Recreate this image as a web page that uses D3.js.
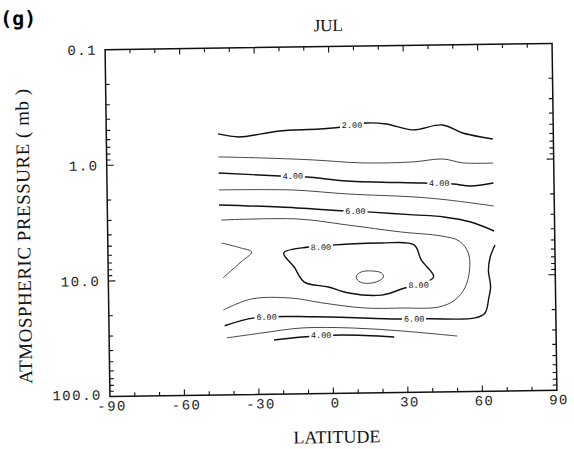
<!DOCTYPE html>
<html>
<head>
<meta charset="utf-8">
<script src="https://cdn.jsdelivr.net/npm/d3@7"></script>
<style>
  body { margin: 0; background: #fff; }
  svg { display: block; }
  .mono { font-family: "Liberation Mono", "DejaVu Sans Mono", monospace; }
  .serif { font-family: "Liberation Serif", "DejaVu Serif", serif; }
</style>
</head>
<body>
<svg id="chart" width="574" height="449"></svg>
<script>
// axis values
const latTicks = [-90, -60, -30, 0, 30, 60, 90];
const latMinor = d3.range(-90, 91, 10);
const presTicks = [0.1, 1, 10, 100];
const presTickLabels = ["0.1", "1.0", "10.0", "100.0"];

// contour lines: [latitude, pressure (mb)]
const c2 = [[-45, 0.552], [-36.5, 0.590], [-27.6, 0.559], [-20.4, 0.530], [-4.2, 0.515], [5, 0.498],
            [14.7, 0.463], [22.8, 0.475], [33.3, 0.538], [45.4, 0.492], [53.5, 0.581], [65.6, 0.660]];
const c3 = [[-45, 0.873], [-27.6, 0.902], [-7.1, 0.951], [13.1, 1.024], [33.3, 1.018], [45.4, 0.969],
            [53.5, 1.053], [65.6, 1.064]];
const c4Upper = [[-45, 1.201], [-20.4, 1.298], [-9.5, 1.335], [6.7, 1.46], [37.3, 1.553], [49.4, 1.597],
                 [56.3, 1.67], [65.6, 1.584]];
const c5Upper = [[-45, 1.685], [-15.3, 1.722], [6.7, 1.891], [33.3, 2.044], [47, 2.19], [65.6, 2.504]];
const c6Upper = [[-45, 2.271], [-20.4, 2.41], [5.9, 2.65], [14.7, 2.72], [33.3, 2.92], [45.4, 3.07],
                 [56.3, 3.42], [65.6, 4.12]];
const c7Wrap = [[-44.2, 3.07], [-13.5, 3.07], [6.7, 3.51], [28, 4.09], [44.2, 4.48], [51.5, 4.98],
                [55.1, 6.34], [55.5, 8.9], [53.5, 12.7], [49.4, 16.1], [43, 18.4], [28, 18.6],
                [13.1, 18.4], [-4.2, 16.4], [-16.3, 14.8], [-32.5, 14.9], [-43.8, 18.4]];
const c7West = [[-44.2, 4.85], [-36.5, 5.38], [-32.1, 5.85], [-36.5, 7.11], [-40.6, 8.48], [-43.8, 9.71]];
const c8 = [[-19.2, 6.01], [-9.1, 5.38], [1, 5.2], [20, 5.07], [33.3, 5.31], [36.1, 7.18], [41, 10.1],
            [34.9, 11.8], [29.3, 12.5], [20, 14.3], [6.7, 13.6], [-1.4, 12.0], [-11.1, 10.8], [-15.1, 7.98]];
const c9 = [[9.9, 9.69], [11.9, 8.97], [15.9, 8.81], [20, 9.2], [20.8, 9.97], [17.9, 11.0], [12.7, 11.2],
            [10.3, 10.5]];
const c6Lower = [[-43.4, 25.2], [-31.3, 21.7], [-7.1, 21.6], [26.8, 23.1], [38.9, 23.2], [57.5, 23.1],
                 [61.5, 21.0], [63.1, 15.6], [63.9, 12.5], [63.1, 8.94], [63.9, 6.9], [65.9, 5.44]];
const c5Lower = [[-42.6, 32.1], [-28.5, 29.4], [-12.3, 26.9], [7.9, 27.3], [28, 29.4], [50.2, 33.0]];
const c4Lower = [[-23.6, 33.9], [-12.3, 32.2], [3.8, 31.3], [24.8, 33.0]];

// label positions on the lines: [latitude, pressure, text]
const labels2 = [[9, 0.48, "2.00"]];
const labels4 = [[-15.1, 1.30, "4.00"], [43.8, 1.56, "4.00"], [-4.6, 31.1, "4.00"]];
const labels6 = [[9.9, 2.66, "6.00"], [-26.5, 21.4, "6.00"], [32.9, 23.1, "6.00"]];
const labels8 = [[-4.2, 5.4, "8.00"], [34.9, 11.8, "8.00"]];

const lines = [
  { pts: c2, major: true }, { pts: c3, major: false }, { pts: c4Upper, major: true },
  { pts: c5Upper, major: false }, { pts: c6Upper, major: true }, { pts: c7Wrap, major: false },
  { pts: c7West, major: false }, { pts: c8, major: true, closed: true }, { pts: c9, major: false, closed: true },
  { pts: c6Lower, major: true }, { pts: c5Lower, major: false }, { pts: c4Lower, major: true }
];
const contourLabels = [].concat(labels2, labels4, labels6, labels8);

const frame = { left: 107.5, right: 554.5, top: 46.5, bottom: 393.5 };
const x = d3.scaleLinear().domain([-90, 90]).range([frame.left, frame.right]);
const y = d3.scaleLog().domain([0.1, 100]).range([frame.top, frame.bottom]);

const svg = d3.select("#chart");
// the scanned page sits slightly tilted
const g = svg.append("g").attr("transform", "rotate(-0.8,331,220)");

// contours
const open = d3.line().x(d => x(d[0])).y(d => y(d[1])).curve(d3.curveCatmullRom.alpha(0.5));
const shut = d3.line().x(d => x(d[0])).y(d => y(d[1])).curve(d3.curveCatmullRomClosed.alpha(0.5));
g.append("g").selectAll("path").data(lines).join("path")
  .attr("d", d => (d.closed ? shut : open)(d.pts))
  .attr("fill", "none")
  .attr("stroke", d => d.major ? "#111" : "#333")
  .attr("stroke-width", d => d.major ? 1.4 : 0.9);

const lab = g.append("g").selectAll("g").data(contourLabels).join("g")
  .attr("transform", d => `translate(${x(d[0])},${y(d[1])})`);
lab.append("rect").attr("x", -12).attr("y", -4.5).attr("width", 24).attr("height", 9).attr("fill", "#fff");
lab.append("text").attr("class", "mono").attr("text-anchor", "middle").attr("dy", "0.35em")
  .attr("font-size", 8.5).attr("fill", "#111").text(d => d[2]);

// frame
g.append("rect").attr("x", frame.left).attr("y", frame.top)
  .attr("width", frame.right - frame.left).attr("height", frame.bottom - frame.top)
  .attr("fill", "none").attr("stroke", "#111").attr("stroke-width", 1.5);

// latitude ticks, bottom and top, pointing inward
const tk = g.append("g").attr("stroke", "#111").attr("stroke-width", 1.1);
latMinor.slice(1, -1).forEach(v => {
  const len = v % 30 === 0 ? 6 : 4;
  tk.append("line").attr("x1", x(v)).attr("x2", x(v)).attr("y1", frame.bottom).attr("y2", frame.bottom - len);
  tk.append("line").attr("x1", x(v)).attr("x2", x(v)).attr("y1", frame.top).attr("y2", frame.top + len);
});

// pressure ticks, left and right, log minors
const presMinor = [];
[0.1, 1, 10].forEach(dec => d3.range(2, 10).forEach(k => presMinor.push(dec * k)));
presMinor.forEach(v => {
  tk.append("line").attr("x1", frame.left).attr("x2", frame.left + 4).attr("y1", y(v)).attr("y2", y(v));
  tk.append("line").attr("x1", frame.right).attr("x2", frame.right - 4).attr("y1", y(v)).attr("y2", y(v));
});
presTicks.slice(1, -1).forEach(v => {
  tk.append("line").attr("x1", frame.left).attr("x2", frame.left + 7).attr("y1", y(v)).attr("y2", y(v));
  tk.append("line").attr("x1", frame.right).attr("x2", frame.right - 7).attr("y1", y(v)).attr("y2", y(v));
});

// tick labels
g.append("g").selectAll("text").data(latTicks).join("text")
  .attr("class", "mono").attr("font-size", 14).attr("letter-spacing", 1.5)
  .attr("text-anchor", "middle").attr("fill", "#222")
  .attr("x", d => x(d) + 2).attr("y", frame.bottom + 14)
  .text(d => d3.format("d")(d).replace("−", "-"));

g.append("g").selectAll("text").data(presTicks).join("text")
  .attr("class", "mono").attr("font-size", 14).attr("letter-spacing", 1.5)
  .attr("text-anchor", "end").attr("fill", "#222")
  .attr("x", frame.left - 8).attr("y", (d, i) => y(d) - (i === 3 ? 2 : 0)).attr("dy", "0.35em")
  .text((d, i) => presTickLabels[i]);

// titles
g.append("text").attr("class", "serif").attr("font-size", 17).attr("text-anchor", "middle")
  .attr("x", (frame.left + frame.right) / 2).attr("y", 31).attr("fill", "#111").text("JUL");
g.append("text").attr("class", "serif").attr("font-size", 18).attr("text-anchor", "middle")
  .attr("x", 334).attr("y", 443).attr("fill", "#111").text("LATITUDE");
g.append("text").attr("class", "serif").attr("font-size", 19).attr("letter-spacing", 0.5)
  .attr("text-anchor", "middle")
  .attr("transform", "translate(30,232) rotate(-90)").attr("fill", "#111")
  .text("ATMOSPHERIC PRESSURE ( mb )");
g.append("text").attr("font-family", "'DejaVu Sans Mono', monospace").attr("font-weight", "bold")
  .attr("font-size", 20).attr("x", 3).attr("y", 21).attr("fill", "#000").text("(g)");
</script>
</body>
</html>
